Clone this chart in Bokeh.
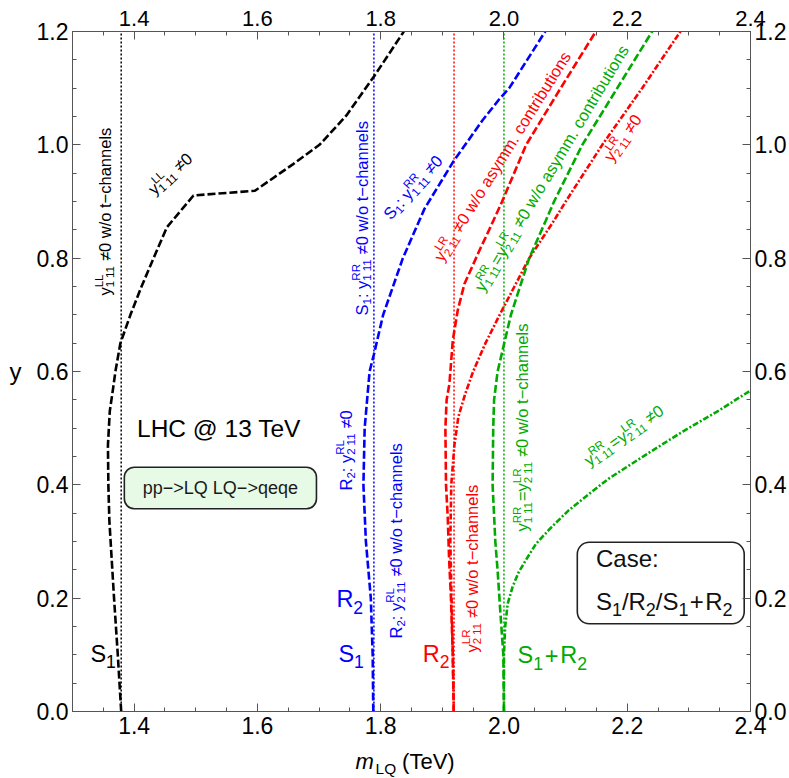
import math
from bokeh.plotting import figure
from bokeh.layouts import column
from bokeh.models import (Range1d, LinearAxis, FixedTicker, PrintfTickFormatter,
                          ColumnDataSource)
from bokeh.core.properties import value, field
from bokeh.embed import file_html
from bokeh.resources import INLINE

# ---------------- data ----------------
x_ticks = [1.4, 1.6, 1.8, 2.0, 2.2, 2.4]
x_minor = [1.3, 1.35, 1.4, 1.45, 1.5, 1.55, 1.6, 1.65, 1.7, 1.75, 1.8, 1.85, 1.9,
           1.95, 2.0, 2.05, 2.1, 2.15, 2.2, 2.25, 2.3, 2.35, 2.4]
y_ticks = [0.0, 0.2, 0.4, 0.6, 0.8, 1.0, 1.2]
y_minor = [0.0, 0.05, 0.1, 0.15, 0.2, 0.25, 0.3, 0.35, 0.4, 0.45, 0.5, 0.55, 0.6,
           0.65, 0.7, 0.75, 0.8, 0.85, 0.9, 0.95, 1.0, 1.05, 1.1, 1.15, 1.2]

# S1, y^LL_111 (black dashed)
s1_ll_m = [1.379, 1.3735, 1.3674, 1.3598, 1.3582, 1.3575, 1.3605, 1.3665, 1.3696, 1.3777,
           1.394, 1.412, 1.4315, 1.4532, 1.4963, 1.596, 1.658, 1.7012, 1.7444, 1.790, 1.8376]
s1_ll_y = [0.0, 0.1, 0.2, 0.337, 0.4, 0.47, 0.53, 0.575, 0.6, 0.65,
           0.7, 0.75, 0.8, 0.8546, 0.9106, 0.919, 0.966, 1.0005, 1.0518, 1.122, 1.2]

# S1 y^RR_111 / R2 y^RL_211 (blue dashed)
blue_m = [1.788, 1.787, 1.784, 1.776, 1.772, 1.774, 1.782, 1.789, 1.804, 1.836,
          1.871, 1.917, 1.965, 1.992, 2.0085, 2.067]
blue_y = [0.0, 0.1, 0.2, 0.3, 0.4, 0.5, 0.6, 0.63, 0.7, 0.8,
          0.887, 0.969, 1.043, 1.08, 1.1, 1.2]

# R2 y^LR_211 w/o asymm. contributions (red dashed)
r2_noasym_m = [1.9185, 1.917, 1.914, 1.911, 1.9088, 1.906, 1.905, 1.907, 1.9115, 1.917,
               1.925, 1.936, 1.96, 1.976, 1.997, 2.036, 2.092, 2.149]
r2_noasym_y = [0.0, 0.1, 0.2, 0.27, 0.343, 0.4, 0.5, 0.55, 0.578, 0.655,
               0.708, 0.755, 0.813, 0.85, 0.9, 1.0, 1.1, 1.2]

# R2 y^LR_211 (red dot-dashed)
r2_full_m = [1.9185, 1.917, 1.915, 1.913, 1.9145, 1.9196, 1.926, 1.937, 1.95, 1.97,
             1.993, 2.017, 2.041, 2.0813, 2.1002, 2.1595, 2.2242, 2.2863]
r2_full_y = [0.0, 0.1, 0.2, 0.3, 0.4, 0.47, 0.52, 0.56, 0.6, 0.65,
             0.7, 0.75, 0.8, 0.8665, 0.9, 1.0, 1.1, 1.2]

# S1+R2 w/o asymm. contributions (green dashed)
mix_noasym_m = [2.0, 1.999, 1.994, 1.9897, 1.986, 1.9816, 1.9826, 1.984, 1.9897, 2.0113,
                2.041, 2.068, 2.0813, 2.1271, 2.1838, 2.2404]
mix_noasym_y = [0.0, 0.1, 0.178, 0.249, 0.3, 0.4, 0.5, 0.55, 0.6, 0.7,
                0.8, 0.8665, 0.9, 1.0, 1.1, 1.2]

# S1+R2 (green dot-dashed)
mix_full_m = [2.0, 2.0, 2.002, 2.006, 2.014, 2.024, 2.036, 2.052, 2.075, 2.105,
              2.138, 2.17, 2.23, 2.29, 2.35, 2.4]
mix_full_y = [0.0, 0.1, 0.15, 0.19, 0.22, 0.246, 0.268, 0.296, 0.323, 0.355,
              0.384, 0.411, 0.453, 0.494, 0.532, 0.5665]

# limits without t-channels (dotted verticals)
tchan_m = [1.379, 1.789, 1.919, 2.0]
tchan_colors = ["#000000", "#0000ff", "#ff0000", "#00aa00"]

BLACK, BLUE, RED, GREEN = "#000000", "#0000ff", "#ff0000", "#00aa00"
FONT = "Liberation Sans"
FRAME = "#555555"

# ---------------- main figure ----------------
fig = figure(width=789, height=747, x_range=Range1d(1.3, 2.4), y_range=Range1d(0, 1.2),
             min_border_left=72, min_border_right=37, min_border_top=31,
             min_border_bottom=36, output_backend="svg", toolbar_location=None)
fig.grid.visible = False
fig.outline_line_color = FRAME
fig.background_fill_color = "white"
fig.border_fill_color = "white"


def style_axis(ax, ticks, minor, size, standoff):
    ax.ticker = FixedTicker(ticks=ticks, minor_ticks=minor)
    ax.formatter = PrintfTickFormatter(format="%.1f")
    ax.axis_line_color = FRAME
    ax.major_tick_line_color = FRAME
    ax.minor_tick_line_color = FRAME
    ax.major_tick_in = 8
    ax.major_tick_out = 0
    ax.minor_tick_in = 4
    ax.minor_tick_out = 0
    ax.major_label_text_font = FONT
    ax.major_label_text_font_size = size
    ax.major_label_text_color = "black"
    ax.major_label_standoff = standoff


style_axis(fig.xaxis[0], x_ticks, x_minor, "23px", 5)
style_axis(fig.yaxis[0], y_ticks, y_minor, "23px", 4)
top_ax = LinearAxis()
right_ax = LinearAxis()
style_axis(top_ax, x_ticks, x_minor, "22px", 6)
style_axis(right_ax, y_ticks, y_minor, "23px", 4)
fig.add_layout(top_ax, "above")
fig.add_layout(right_ax, "right")

yax = fig.yaxis[0]
yax.axis_label = "y"
yax.axis_label_text_font = FONT
yax.axis_label_text_font_size = "24px"
yax.axis_label_text_font_style = "normal"
yax.axis_label_text_color = "black"
yax.axis_label_standoff = 12
try:
    yax.axis_label_orientation = "horizontal"
except Exception:
    pass

# ---------------- curves ----------------
fig.segment(x0=tchan_m, x1=tchan_m, y0=[0] * len(tchan_m), y1=[1.2] * len(tchan_m),
            line_color=tchan_colors, line_width=1.5, line_dash="2 2")

DASH = "8 3"
DOTDASH = "6 2 2 2"
fig.line(r2_full_m, r2_full_y, line_color=RED, line_width=2.6, line_dash=DOTDASH)
fig.line(mix_full_m, mix_full_y, line_color=GREEN, line_width=2.6, line_dash=DOTDASH)
fig.line(s1_ll_m, s1_ll_y, line_color=BLACK, line_width=2.6, line_dash=DASH)
fig.line(blue_m, blue_y, line_color=BLUE, line_width=2.6, line_dash=DASH)
fig.line(r2_noasym_m, r2_noasym_y, line_color=RED, line_width=2.6, line_dash=DASH)
fig.line(mix_noasym_m, mix_noasym_y, line_color=GREEN, line_width=2.6, line_dash=DASH)

# ---------------- boxes ----------------
fig.quad(left=[1.3841], right=[1.6958], bottom=[0.3577], top=[0.4311], border_radius=10,
         fill_color="#e6fae6", line_color="#222222", line_width=1.6)
fig.quad(left=[2.119], right=[2.3898], bottom=[0.1548], top=[0.2988], border_radius=12,
         fill_color="white", line_color="#222222", line_width=1.6)

# ---------------- rich text helper ----------------
AW = {' ': 278, '(': 333, ')': 333, '+': 584, '-': 333, '.': 278, '/': 278, ':': 278,
      '=': 584, '>': 584, '@': 1015, '\u2260': 548, '\u2212': 584,
      'A': 667, 'B': 667, 'C': 722, 'D': 722, 'E': 667, 'F': 611, 'G': 778, 'H': 722,
      'I': 278, 'J': 500, 'K': 667, 'L': 556, 'M': 833, 'N': 722, 'O': 778, 'P': 667,
      'Q': 778, 'R': 722, 'S': 667, 'T': 611, 'U': 722, 'V': 667, 'W': 944, 'X': 667,
      'Y': 667, 'Z': 611,
      'a': 556, 'b': 556, 'c': 500, 'd': 556, 'e': 556, 'f': 278, 'g': 556, 'h': 556,
      'i': 222, 'j': 222, 'k': 500, 'l': 222, 'm': 833, 'n': 556, 'o': 556, 'p': 556,
      'q': 556, 'r': 333, 's': 500, 't': 278, 'u': 556, 'v': 500, 'w': 722, 'x': 500,
      'y': 500, 'z': 500}


def adv(s, size):
    return sum(AW.get(ch, 556) for ch in s) * size / 1000.0


PXX = 680 / 1.1   # pixels per TeV
PXY = 680 / 1.2   # pixels per unit of y
MID = (0.905 - 0.212) / 2   # baseline -> middle of the em box, in em


def new_store():
    return dict(x=[], y=[], text=[], angle=[], color=[], size=[], style=[])


T = new_store()


def rich(store, x0, y0, deg, parts, color, size=16.5, sub_scale=0.7, sub_drop=0.2,
         pxx=PXX, pxy=PXY):
    """(x0, y0) is the baseline origin; pieces are anchored at their em-box middle."""
    th = math.radians(deg)
    c, s = math.cos(th), math.sin(th)
    pos = 0.0

    def emit(txt, along, perp, fs, style="normal"):
        perp = perp + MID * fs
        dx = along * c - perp * s
        dy = along * s + perp * c
        store["x"].append(x0 + dx / pxx)
        store["y"].append(y0 + dy / pxy)
        store["text"].append(txt)
        store["angle"].append(th)
        store["color"].append(color)
        store["size"].append("%.2fpx" % fs)
        store["style"].append(style)

    for part in parts:
        kind = part[0]
        if kind == "t":
            emit(part[1], pos, 0, size)
            pos += adv(part[1], size)
        elif kind == "i":
            emit(part[1], pos, 0, size, "italic")
            pos += adv(part[1], size) + 0.08 * size
        elif kind == "g":
            pos += part[1] * size
        elif kind == "sub":
            fs = size * sub_scale
            emit(part[1], pos, -sub_drop * size, fs)
            pos += adv(part[1], fs)
        elif kind == "ss":
            fs = size * 0.7
            sub_parts, sup = part[1], part[2]
            q = pos
            for i, sp in enumerate(sub_parts):
                if i:
                    q += 0.25 * fs
                emit(sp, q, -0.22 * size, fs)
                q += adv(sp, fs)
            emit(sup, pos, 0.45 * size, fs)
            pos = max(q, pos + adv(sup, fs))


S111 = ["1", "11"]
S211 = ["2", "11"]
TCH = "\u2260" + "0 w/o t\u2212channels"
ASY = "\u2260" + "0 w/o asymm. contributions"
NE0 = "\u22600"

# black
rich(T, 1.3615, 0.734, 90, [("t", "y"), ("ss", S111, "LL"), ("g", 0.25), ("t", TCH)], BLACK)
rich(T, 1.4326, 0.9106, 42, [("t", "y"), ("ss", S111, "LL"), ("g", 0.25), ("t", NE0)], BLACK)
# blue
rich(T, 1.7788, 0.6988, 90, [("t", "S"), ("sub", "1"), ("t", ": y"), ("ss", S111, "RR"),
                             ("g", 0.25), ("t", TCH)], BLUE)
rich(T, 1.7529, 0.39, 90, [("t", "R"), ("sub", "2"), ("t", ": y"), ("ss", S211, "RL"),
                           ("g", 0.25), ("t", NE0)], BLUE)
rich(T, 1.8338, 0.1288, 90, [("t", "R"), ("sub", "2"), ("t", ": y"), ("ss", S211, "RL"),
                             ("g", 0.25), ("t", TCH)], BLUE)
rich(T, 1.816, 0.8665, 48, [("t", "S"), ("sub", "1"), ("t", ": y"), ("ss", S111, "RR"),
                            ("g", 0.25), ("t", NE0)], BLUE)
# red
rich(T, 1.9002, 0.7923, 58, [("t", "y"), ("ss", S211, "LR"), ("g", 0.25), ("t", ASY)], RED)
rich(T, 2.1752, 0.9688, 55, [("t", "y"), ("ss", S211, "LR"), ("g", 0.25), ("t", NE0)], RED)
rich(T, 1.9568, 0.1041, 90, [("t", "y"), ("ss", S211, "LR"), ("g", 0.25), ("t", TCH)], RED)
# green
MIX = [("t", "y"), ("ss", S111, "RR"), ("t", "=y"), ("ss", S211, "LR"), ("g", 0.25)]
rich(T, 1.9665, 0.7394, 59, MIX + [("t", ASY)], GREEN)
rich(T, 2.0393, 0.3176, 90, MIX + [("t", TCH)], GREEN)
rich(T, 2.138, 0.4323, 35, MIX + [("t", NE0)], GREEN)

# model labels
BIG = 23.5
rich(T, 1.3291, 0.087, 0, [("t", "S"), ("sub", "1")], BLACK, BIG, 0.75, 0.25)
rich(T, 1.7282, 0.184, 0, [("t", "R"), ("sub", "2")], BLUE, BIG, 0.75, 0.25)
rich(T, 1.7314, 0.087, 0, [("t", "S"), ("sub", "1")], BLUE, BIG, 0.75, 0.25)
rich(T, 1.8683, 0.087, 0, [("t", "R"), ("sub", "2")], RED, BIG, 0.75, 0.25)
rich(T, 2.022, 0.0847, 0, [("t", "S"), ("sub", "1"), ("g", 0.08), ("t", "+"), ("g", 0.08),
                           ("t", "R"), ("sub", "2")], GREEN, BIG, 0.75, 0.25)
rich(T, 1.4047, 0.484, 0, [("t", "LHC @ 13 TeV")], BLACK, 24.5)
rich(T, 2.1493, 0.2547, 0, [("t", "Case:")], "#111111", 24)
rich(T, 2.1493, 0.18, 0, [("t", "S"), ("sub", "1"), ("t", "/R"), ("sub", "2"), ("t", "/S"),
                          ("sub", "1"), ("g", 0.06), ("t", "+"), ("g", 0.06), ("t", "R"),
                          ("sub", "2")], "#111111", 24, 0.75, 0.25)

fig.text(x="x", y="y", text="text", angle="angle", source=ColumnDataSource(T),
         text_color=field("color"), text_font_size=field("size"),
         text_font=value(FONT), text_align="left", text_baseline="middle")

fig.text(x=[1.5399], y=[0.3944], text=["pp\u2212>LQ LQ\u2212>qeqe"], text_font=value(FONT),
         text_font_size="18px", text_color="#1a1a1a", text_align="center",
         text_baseline="middle")

# ---------------- x-axis title strip ----------------
xlab = figure(frame_width=680, frame_height=31, x_range=fig.x_range,
              y_range=Range1d(0, 31),
              min_border_left=72, min_border_right=37, min_border_top=0,
              min_border_bottom=0, x_axis_type=None, y_axis_type=None,
              output_backend="svg", toolbar_location=None)
xlab.title.visible = False
xlab.outline_line_color = None
xlab.grid.visible = False
XL = new_store()
rich(XL, 1.7578, 9.5, 0, [("i", "m"), ("sub", "LQ"), ("g", 0.27), ("t", "(TeV)")], BLACK, 22,
     0.7, 0.22, PXX, 1.0)
xlab.text(x="x", y="y", text="text", source=ColumnDataSource(XL),
          text_color=field("color"), text_font_size=field("size"),
          text_font_style=field("style"), text_font=value(FONT),
          text_align="left", text_baseline="middle")

p = column(fig, xlab, spacing=0)
open("out.html", "w").write(file_html(p, INLINE))
